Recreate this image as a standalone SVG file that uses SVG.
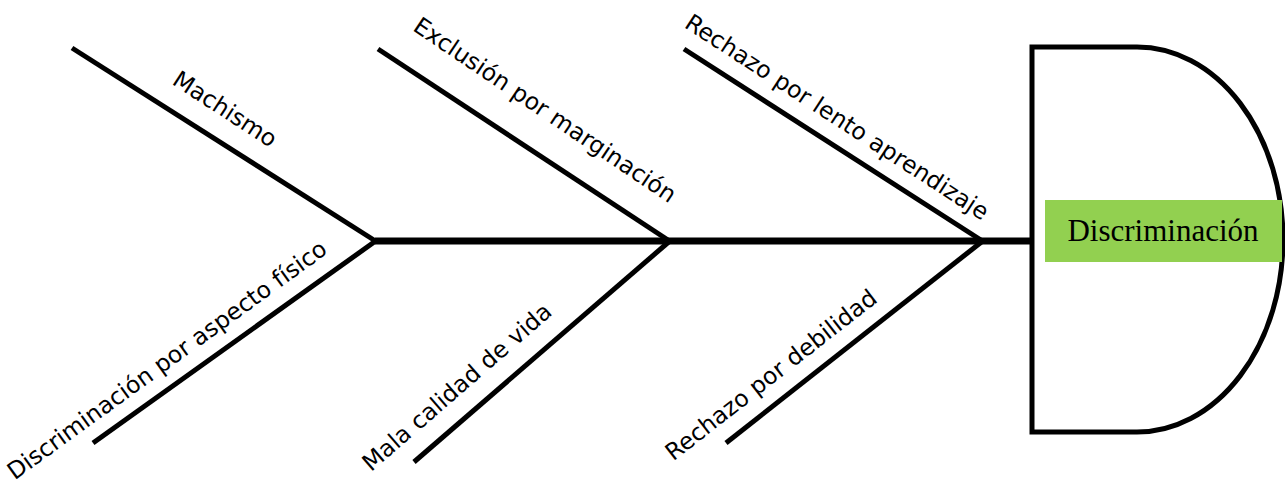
<svg xmlns="http://www.w3.org/2000/svg" width="1285" height="487" viewBox="0 0 1285 487">
<style>
.bone{stroke:#000;stroke-width:5;fill:none;stroke-linecap:butt}
.spine{stroke:#000;stroke-width:7;fill:none}
.head{stroke:#000;stroke-width:5;fill:#fff}
.lbl{font-family:"DejaVu Sans",sans-serif;font-size:23.5px;fill:#000;text-anchor:middle;dominant-baseline:central}
.eff{font-family:"Liberation Serif","Times New Roman",serif;font-size:31px;fill:#000;text-anchor:middle}
</style>
<rect width="1285" height="487" fill="#fff"/>
<g id="connectors">
<line class="spine" x1="375" y1="241" x2="1032" y2="241"/>
<line class="bone" x1="72" y1="48" x2="377" y2="242"/>
<line class="bone" x1="377" y1="240" x2="93" y2="443"/>
<line class="bone" x1="378" y1="49" x2="671" y2="242"/>
<line class="bone" x1="671" y1="240" x2="414" y2="462"/>
<line class="bone" x1="684" y1="49" x2="984" y2="242"/>
<line class="bone" x1="984" y1="240" x2="726" y2="443"/>
</g>
<g id="head">
<path class="head" d="M1137,47 H1032 V432 H1137 A146,192.5 0 0 0 1137,47 Z"/>
<rect x="1045" y="200" width="237" height="62" fill="#92D050"/>
<text class="eff" x="1163" y="241">Discriminación</text>
</g>
<g id="cause-machismo"><text class="lbl" transform="translate(225,109) rotate(33)">Machismo</text></g>
<g id="cause-exclusion"><text class="lbl" transform="translate(545,110) rotate(34)">Exclusión por marginación</text></g>
<g id="cause-lento"><text class="lbl" transform="translate(837,117) rotate(33)">Rechazo por lento aprendizaje</text></g>
<g id="cause-aspecto"><text class="lbl" transform="translate(167,360) rotate(-36)">Discriminación por aspecto físico</text></g>
<g id="cause-calidad"><text class="lbl" transform="translate(457,387) rotate(-41)">Mala calidad de vida</text></g>
<g id="cause-debilidad"><text class="lbl" transform="translate(771,375) rotate(-38)">Rechazo por debilidad</text></g>
</svg>
